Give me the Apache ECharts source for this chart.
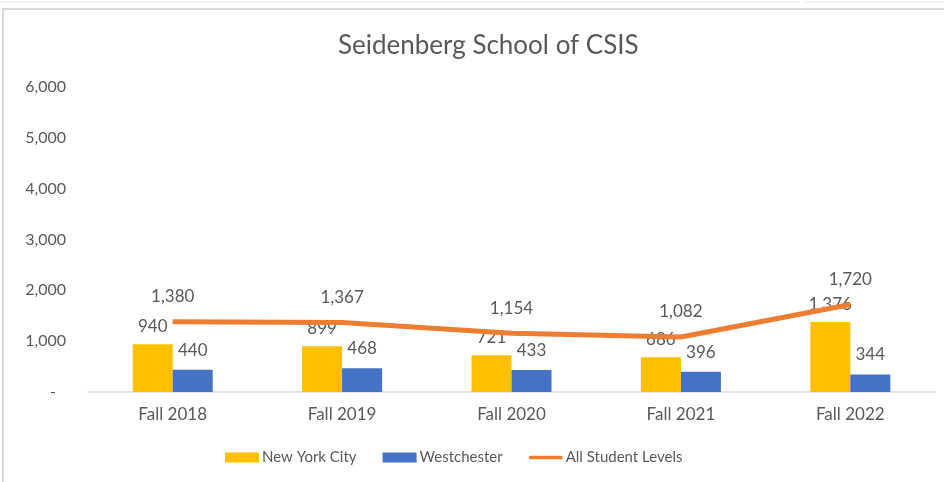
<!DOCTYPE html>
<html>
<head>
<meta charset="utf-8">
<script src="https://cdn.jsdelivr.net/npm/echarts@6/dist/echarts.min.js"></script>
<style>
  html, body { margin: 0; padding: 0; background: #fff; }
  #main { width: 944px; height: 482px; }
</style>
</head>
<body>
<div id="main"></div>
<script>
// 数据
var terms = ['Fall 2018', 'Fall 2019', 'Fall 2020', 'Fall 2021', 'Fall 2022'];
var nyc = [940, 899, 721, 686, 1376];
var westchester = [440, 468, 433, 396, 344];
var allLevels = [1380, 1367, 1154, 1082, 1720];

var txtColor = '#595959';
var fontFam = 'Lato, "Open Sans", sans-serif';

function fmt(v) {
  return v === 0 ? '-' : v.toLocaleString('en-US');
}
function labelFmt(p) {
  return fmt(p.value);
}

var chart = echarts.init(document.getElementById('main'));
var option = {
  animation: false,
  title: {
    text: 'Seidenberg School of CSIS',
    left: 333,
    top: 28,
    textStyle: { fontFamily: fontFam, fontSize: 26, fontWeight: 'normal', color: txtColor }
  },
  graphic: [
    { type: 'rect', shape: { x: 3, y: 9, width: 960, height: 500 },
      style: { fill: 'none', stroke: '#d9d9d9', lineWidth: 2 } },
    { type: 'line', shape: { x1: 0, y1: 2, x2: 800, y2: 2 },
      style: { stroke: '#e6e6e6', lineWidth: 1 } },
    { type: 'line', shape: { x1: 805, y1: 2, x2: 944, y2: 2 },
      style: { stroke: '#e6e6e6', lineWidth: 1 } }
  ],
  legend: {
    bottom: 12,
    left: 220,
    itemWidth: 34,
    itemHeight: 10,
    itemGap: 26,
    textStyle: { fontFamily: fontFam, fontSize: 15, color: txtColor, padding: [0, 0, 0, -2] },
    data: [
      { name: 'New York City', icon: 'rect' },
      { name: 'Westchester', icon: 'rect' },
      { name: 'All Student Levels', icon: 'path://M2 0H38A2 2 0 0 1 38 4H2A2 2 0 0 1 2 0Z' }
    ]
  },
  grid: { left: 88, right: 9, top: 87, bottom: 90 },
  xAxis: {
    type: 'category',
    data: terms,
    axisTick: { show: false },
    axisLine: { lineStyle: { color: '#d9d9d9', width: 1.5 } },
    axisLabel: { fontFamily: fontFam, fontSize: 17, color: txtColor, margin: 14 }
  },
  yAxis: {
    type: 'value',
    min: 0,
    max: 6000,
    interval: 1000,
    splitLine: { show: false },
    axisLine: { show: false },
    axisTick: { show: false },
    axisLabel: {
      fontFamily: fontFam, fontSize: 16, color: txtColor, margin: 22,
      formatter: function (v) { return v === 0 ? '{z|-}' : fmt(v); },
      rich: { z: { fontFamily: fontFam, fontSize: 16, color: txtColor, padding: [0, 10, 0, 0] } }
    }
  },
  series: [
    {
      name: 'New York City',
      type: 'bar',
      barWidth: 40,
      barGap: '0%',
      itemStyle: { color: '#FFC000' },
      label: { show: true, position: 'top', distance: 9, fontFamily: fontFam, fontSize: 17, color: txtColor, formatter: labelFmt },
      data: nyc
    },
    {
      name: 'Westchester',
      type: 'bar',
      barWidth: 40,
      itemStyle: { color: '#4472C4' },
      label: { show: true, position: 'top', distance: 11, fontFamily: fontFam, fontSize: 17, color: txtColor, formatter: labelFmt },
      data: westchester
    },
    {
      name: 'All Student Levels',
      type: 'line',
      symbol: 'circle',
      symbolSize: 1,
      lineStyle: { color: '#ED7D31', width: 5 },
      itemStyle: { color: '#ED7D31' },
      label: { show: true, position: 'top', distance: 16, fontFamily: fontFam, fontSize: 17, color: txtColor, formatter: labelFmt },
      z: 5,
      data: allLevels
    }
  ]
};
chart.setOption(option);
</script>
</body>
</html>
